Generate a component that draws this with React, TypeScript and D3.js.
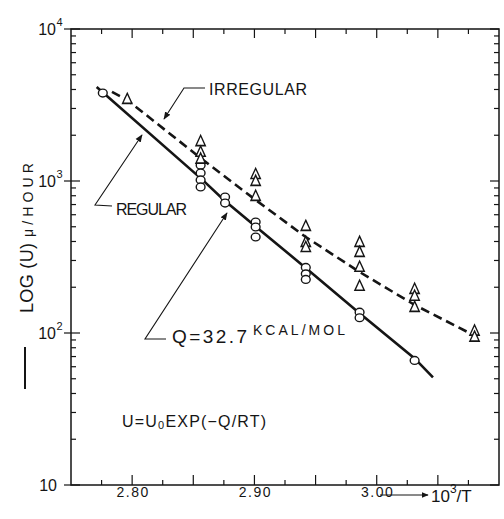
import { useRef, useEffect } from 'react';
import * as d3 from 'd3';

// regular growth (circles)
const regularX = [2.776, 2.856, 2.856, 2.856, 2.856, 2.876, 2.876, 2.901, 2.901, 2.901, 2.942, 2.942, 2.942, 2.986, 2.986, 3.031];
const regularU = [3790, 1270, 1130, 1016, 914, 785, 716, 537, 498, 428, 270, 245, 225, 137, 126, 66];

// irregular growth (triangles)
const irregularX = [2.796, 2.856, 2.856, 2.856, 2.901, 2.901, 2.901, 2.942, 2.942, 2.942, 2.986, 2.986, 2.986, 2.986, 3.031, 3.031, 3.031, 3.08, 3.08];
const irregularU = [3410, 1800, 1530, 1380, 1094, 985, 785, 498, 391, 362, 391, 336, 268, 201, 192, 173, 146, 102, 93];

// fitted lines
const regularLineX = [2.771, 2.858, 2.875, 2.9005, 2.942, 2.985, 3.031, 3.046];
const regularLineU = [4150, 1010, 750, 506, 268, 137, 68, 51];
const irregularLineX = [2.7835, 2.796, 2.856, 2.901, 2.942, 2.986, 3.031, 3.078];
const irregularLineU = [3855, 3410, 1416, 750, 428, 252, 153, 98];

const xTickValues = [2.8, 2.9, 3.0];
const xTickLabels = ['2.80', '2.90', '3.00'];
const yDecades = [10, 100, 1000, 10000];
const yDecadeExp = ['', '2', '3', '4'];

const FONT = 'Liberation Sans, Arial, sans-serif';
const INK = '#151515';

function GrowthChart() {
  const svgRef = useRef(null);
  const width = 504;
  const height = 519;

  useEffect(() => {
    const margin = { top: 29, right: 5, bottom: 34, left: 71 };
    const svg = d3.select(svgRef.current);
    svg.selectAll('*').remove();

    const x = d3.scaleLinear().domain([2.75, 3.1]).range([margin.left, width - margin.right]);
    const y = d3.scaleLog().domain([10, 10000]).range([height - margin.bottom, margin.top]);
    const [x0, x1] = x.range();
    const [yb, yt] = y.range();

    svg
      .append('defs')
      .append('marker')
      .attr('id', 'arr')
      .attr('viewBox', '0 0 10 10')
      .attr('refX', 9)
      .attr('refY', 5)
      .attr('markerWidth', 7)
      .attr('markerHeight', 7)
      .attr('orient', 'auto')
      .append('path')
      .attr('d', 'M0,1 L10,5 L0,9 Z')
      .attr('fill', INK);

    // frame
    svg
      .append('rect')
      .attr('x', x0)
      .attr('y', yt)
      .attr('width', x1 - x0)
      .attr('height', yb - yt)
      .attr('fill', 'none')
      .attr('stroke', INK)
      .attr('stroke-width', 1.5);

    // log ticks left / right
    const logTicks = yDecades.slice(0, 3).flatMap((d) => d3.range(1, 10).map((k) => d * k)).concat([10000]);
    const g = svg.append('g').attr('stroke', INK).attr('stroke-width', 1.2);
    logTicks.forEach((v) => {
      const major = yDecades.includes(v);
      const yy = y(v);
      g.append('line').attr('x1', major ? x0 - 7 : x0).attr('x2', x0 + (major ? 9 : 5)).attr('y1', yy).attr('y2', yy);
      g.append('line').attr('x1', x1).attr('x2', x1 - (major ? 9 : 5)).attr('y1', yy).attr('y2', yy);
    });

    // linear ticks bottom / top
    d3.range(0, 13).map((i) => 2.775 + i * 0.025).forEach((v) => {
      const major = Math.abs(Math.round(v * 20) - v * 20) < 1e-6;
      const xx = x(v);
      g.append('line').attr('x1', xx).attr('x2', xx).attr('y1', yb).attr('y2', yb - (major ? 10 : 5));
      g.append('line').attr('x1', xx).attr('x2', xx).attr('y1', yt).attr('y2', yt + (major ? 9 : 5));
    });

    // y tick labels
    yDecades.forEach((v, i) => {
      svg
        .append('text')
        .attr('x', yDecadeExp[i] ? 56 : 57)
        .attr('y', y(v) + 6)
        .attr('text-anchor', 'end')
        .attr('font-family', FONT)
        .attr('font-size', 16)
        .attr('fill', INK)
        .text('10');
      if (yDecadeExp[i]) {
        svg
          .append('text')
          .attr('x', 56.5)
          .attr('y', y(v) - 3)
          .attr('font-family', FONT)
          .attr('font-size', 11)
          .attr('fill', INK)
          .text(yDecadeExp[i]);
      }
    });

    // x tick labels
    xTickValues.forEach((v, i) => {
      svg
        .append('text')
        .attr('x', x(v) + 1)
        .attr('y', 497)
        .attr('text-anchor', 'middle')
        .attr('font-family', FONT)
        .attr('font-size', 14)
        .attr('letter-spacing', 1.5)
        .attr('fill', INK)
        .text(xTickLabels[i]);
    });

    // x axis title with arrow
    svg
      .append('line')
      .attr('x1', 380)
      .attr('x2', 428)
      .attr('y1', 495)
      .attr('y2', 495)
      .attr('stroke', INK)
      .attr('stroke-width', 1)
      .attr('marker-end', 'url(#arr)');
    const xt = svg.append('text').attr('x', 431).attr('y', 502).attr('font-family', FONT).attr('font-size', 17).attr('fill', INK);
    xt.append('tspan').text('10');
    xt.append('tspan').attr('font-size', 12).attr('dy', -9).text('3');
    xt.append('tspan').attr('dy', 9).text('/T');

    // y axis title
    const yl = svg.append('g').attr('transform', 'translate(33,313) rotate(-90)');
    yl.append('text')
      .attr('x', 0)
      .attr('y', 0)
      .attr('font-family', FONT)
      .attr('font-size', 18)
      .attr('fill', INK)
      .attr('textLength', 70)
      .attr('lengthAdjust', 'spacing')
      .text('LOG (U)');
    yl.append('text')
      .attr('x', 76)
      .attr('y', 0)
      .attr('font-family', FONT)
      .attr('font-size', 14)
      .attr('fill', INK)
      .attr('textLength', 74)
      .attr('lengthAdjust', 'spacing')
      .text('μ/HOUR');
    svg.append('line').attr('x1', 25).attr('x2', 25).attr('y1', 347).attr('y2', 389).attr('stroke', INK).attr('stroke-width', 2);

    // fitted lines
    const line = d3
      .line()
      .x((d) => x(d[0]))
      .y((d) => y(d[1]));

    svg
      .append('path')
      .attr('d', line(regularLineX.map((v, i) => [v, regularLineU[i]])))
      .attr('fill', 'none')
      .attr('stroke', INK)
      .attr('stroke-width', 2.6);

    svg
      .append('path')
      .attr('d', line(irregularLineX.map((v, i) => [v, irregularLineU[i]])))
      .attr('fill', 'none')
      .attr('stroke', INK)
      .attr('stroke-width', 2.6)
      .attr('stroke-dasharray', '9,5');

    // points
    svg
      .selectAll('ellipse.reg')
      .data(regularX.map((v, i) => [v, regularU[i]]))
      .join('ellipse')
      .attr('class', 'reg')
      .attr('cx', (d) => x(d[0]))
      .attr('cy', (d) => y(d[1]))
      .attr('rx', 4.4)
      .attr('ry', 3.9)
      .attr('fill', 'white')
      .attr('stroke', INK)
      .attr('stroke-width', 1.4);

    const tri = d3.symbol().type(d3.symbolTriangle).size(38);
    svg
      .selectAll('path.irr')
      .data(irregularX.map((v, i) => [v, irregularU[i]]))
      .join('path')
      .attr('class', 'irr')
      .attr('d', tri)
      .attr('transform', (d) => `translate(${x(d[0])},${y(d[1])}) scale(1,1.25)`)
      .attr('fill', 'white')
      .attr('stroke', INK)
      .attr('stroke-width', 1.3);

    // annotations
    const leader = (pts) =>
      svg
        .append('path')
        .attr('d', d3.line()(pts))
        .attr('fill', 'none')
        .attr('stroke', INK)
        .attr('stroke-width', 1.1)
        .attr('marker-end', 'url(#arr)');

    leader([[205, 88], [184, 88], [164, 119]]);
    leader([[112, 206], [95, 205], [142, 135]]);
    leader([[166, 339], [145, 339], [227, 213]]);

    const label = (tx, ty, str, size, len) =>
      svg
        .append('text')
        .attr('x', tx)
        .attr('y', ty)
        .attr('font-family', FONT)
        .attr('font-size', size)
        .attr('fill', INK)
        .attr('textLength', len)
        .attr('lengthAdjust', 'spacing')
        .text(str);

    label(209, 95, 'IRREGULAR', 16, 98);
    label(116, 215, 'REGULAR', 16, 71);
    label(172, 343, 'Q=32.7', 19, 75);
    label(253, 335, 'KCAL/MOL', 14, 92);

    const eq = svg.append('text').attr('x', 122).attr('y', 427).attr('font-family', FONT).attr('font-size', 16).attr('fill', INK).attr('letter-spacing', 1.2);
    eq.append('tspan').text('U=U');
    eq.append('tspan').attr('font-size', 11).attr('dy', 2).text('0');
    eq.append('tspan').attr('dy', -2).text('EXP(−Q/RT)');
  }, []);

  return <svg ref={svgRef} width={width} height={height} style={{ position: 'absolute', left: 0, top: 0, background: 'white' }}></svg>;
}

export default function App() {
  return <GrowthChart />;
}
